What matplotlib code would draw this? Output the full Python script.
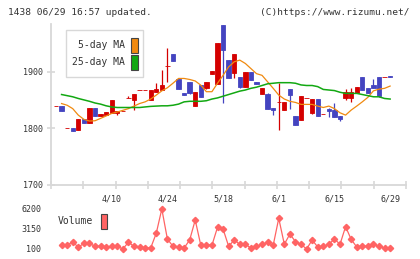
import numpy as np
import matplotlib
matplotlib.use("Agg")
import matplotlib.pyplot as plt
from matplotlib.patches import Rectangle

# ─── data ────────────────────────────────────────────────────────────────
opens = [1839, 1839, 1800, 1801, 1797, 1816, 1810, 1836, 1822, 1824,
         1828, 1828, 1831, 1854, 1850, 1868, 1868, 1850, 1865, 1868,
         1910, 1931, 1887, 1862, 1882, 1840, 1877, 1871, 1896, 1878,
         1983, 1921, 1898, 1891, 1874, 1900, 1882, 1861, 1861, 1837,
         1846, 1832, 1870, 1822, 1815, 1853, 1828, 1852, 1825, 1835,
         1832, 1822, 1854, 1854, 1863, 1891, 1871, 1877, 1891, 1891, 1892]
highs = [1839, 1839, 1800, 1801, 1816, 1816, 1837, 1836, 1825, 1829,
         1850, 1831, 1831, 1858, 1861, 1868, 1868, 1868, 1880, 1903,
         1942, 1931, 1887, 1862, 1882, 1864, 1877, 1882, 1901, 1951,
         1983, 1921, 1932, 1891, 1900, 1900, 1882, 1871, 1862, 1837,
         1880, 1847, 1870, 1822, 1857, 1853, 1852, 1852, 1825, 1837,
         1845, 1822, 1870, 1871, 1873, 1891, 1871, 1887, 1891, 1891, 1892]
lows = [1839, 1831, 1800, 1796, 1797, 1810, 1810, 1822, 1822, 1824,
        1828, 1824, 1831, 1854, 1833, 1868, 1868, 1850, 1865, 1868,
        1883, 1920, 1870, 1860, 1861, 1840, 1855, 1869, 1896, 1878,
        1845, 1890, 1890, 1871, 1874, 1886, 1879, 1861, 1835, 1824,
        1797, 1832, 1835, 1806, 1815, 1853, 1825, 1822, 1825, 1820,
        1820, 1813, 1850, 1847, 1863, 1868, 1863, 1871, 1856, 1891, 1891]
closes = [1839, 1831, 1800, 1796, 1816, 1810, 1837, 1822, 1825, 1829,
          1850, 1831, 1831, 1854, 1861, 1868, 1868, 1868, 1870, 1877,
          1910, 1920, 1870, 1860, 1863, 1864, 1855, 1882, 1901, 1951,
          1939, 1890, 1932, 1874, 1900, 1886, 1879, 1871, 1835, 1832,
          1846, 1847, 1860, 1806, 1857, 1853, 1852, 1822, 1825, 1831,
          1820, 1816, 1864, 1864, 1873, 1868, 1863, 1871, 1858, 1891, 1891]

ma5 = [np.nan, 1844, 1841, 1835, 1823.5, 1816, 1813, 1813.5, 1817.7, 1822,
       1826.5, 1829, 1832, 1835, 1839.5, 1844, 1847, 1852, 1859, 1866.5,
       1872, 1880, 1888.5, 1888.5, 1886.7, 1884, 1876.6, 1865, 1865, 1880,
       1894, 1909, 1918, 1921, 1915, 1906, 1897, 1894, 1882.5, 1871,
       1859, 1852, 1848, 1846, 1842.5, 1842.5, 1842.5, 1839.5, 1837, 1839.5,
       1835, 1827.6, 1823.5, 1832.4, 1839.5, 1847, 1855, 1866.5, 1869.5, 1871, 1875]
ma25 = [np.nan, 1860, 1858, 1856, 1853, 1850.5, 1848, 1845, 1843, 1840,
        1838, 1837, 1837, 1837, 1837, 1837, 1838, 1839, 1839.5, 1840,
        1840, 1841, 1843, 1847, 1848, 1848, 1848, 1849, 1852, 1854,
        1857, 1860, 1863, 1866, 1868, 1871, 1873, 1876, 1879, 1880,
        1881, 1881, 1881, 1880, 1877, 1876, 1876, 1874, 1869, 1868,
        1867, 1864, 1862, 1862, 1862, 1860, 1858, 1856, 1856, 1853, 1852]

volume = [np.nan, 664, 664, 1213, 359, 969, 969, 512, 512, 359,
          512, 512, 100, 1122, 512, 359, 252, 252, 2494, 6200,
          1625, 512, 359, 252, 1472, 4522, 664, 766, 664, 3409,
          3150, 512, 1472, 817, 817, 252, 512, 817, 1122, 664,
          4776, 817, 2388, 1213, 817, 100, 1472, 405, 512, 817,
          1625, 817, 3510, 1574, 405, 512, 512, 817, 512, 252, 252]

date_pos = [10, 20, 30, 40, 50, 60]
date_labels = ["4/10", "4/24", "5/18", "6/1", "6/15", "6/29"]
price_ticks = [1700, 1800, 1900]
vol_ticks = [100, 3150, 6200]

# ─── style ───────────────────────────────────────────────────────────────
W, H = 420, 259
UP, DOWN = "#d40000", "#4444c0"
C_MA5, C_MA25 = "#f08a10", "#12a812"
C_VOL = "#ff6464"
GRID = "#d8d8d8"
TXT = "#333333"
MONO = "DejaVu Sans Mono"
plt.rcParams["font.family"] = MONO


def fx(x):
    return x / W


def fy(y):
    return 1 - y / H


fig = plt.figure(figsize=(W / 100, H / 100), dpi=100)
fig.patch.set_facecolor("white")

x0, x1 = -0.9, 62.85
ax = fig.add_axes([fx(51), fy(184.8), fx(406) - fx(51), fy(24) - fy(184.8)])
ax.set_xlim(x0, x1)
ax.set_ylim(1700, 1985)
for s in ["top", "right"]:
    ax.spines[s].set_visible(False)
for s in ["left", "bottom"]:
    ax.spines[s].set_color(GRID)
    ax.spines[s].set_linewidth(1.3)

idx = np.arange(len(opens))
o = np.array(opens, float)
c = np.array(closes, float)
cols = [UP if cc >= oo else DOWN for oo, cc in zip(o, c)]

ax.vlines(idx, lows, highs, colors=cols, linewidth=0.9, zorder=2)
ax.bar(idx, c - o, bottom=o, width=0.78, color=cols, edgecolor=cols,
       linewidth=0.6, zorder=3)

ax.plot(idx, ma5, color=C_MA5, lw=0.9, zorder=4)
ax.plot(idx, ma25, color=C_MA25, lw=1.1, zorder=4)

ax.set_yticks(price_ticks)
ax.tick_params(axis="y", direction="inout", length=6, width=1.2,
               color=GRID, labelsize=6, labelcolor=TXT, pad=3)
ax.set_xticks(date_pos)
ax.set_xticklabels(date_labels)
ax.tick_params(axis="x", which="major", length=0, labelsize=6,
               labelcolor=TXT, pad=7)
ax.set_xticks(np.linspace(x0, x1, 12), minor=True)
ax.tick_params(axis="x", which="minor", direction="inout", length=6,
               width=1.2, color=GRID)

# legend box
fig.patches.append(Rectangle((fx(66), fy(77)), fx(143) - fx(66),
                             fy(30) - fy(77), transform=fig.transFigure,
                             facecolor="white", edgecolor=GRID, lw=1.0,
                             zorder=5))
for label, col, yc in [("5-day MA", C_MA5, 45), ("25-day MA", C_MA25, 62)]:
    fig.text(fx(125), fy(yc), label, ha="right", va="center",
             fontsize=7, color=TXT, zorder=6)
    fig.patches.append(Rectangle((fx(131), fy(yc + 7.5)), fx(6.5),
                                 fy(0) - fy(15), transform=fig.transFigure,
                                 facecolor=col, edgecolor="#444444",
                                 lw=0.8, zorder=6))

# ─── volume ──────────────────────────────────────────────────────────────
vax = fig.add_axes([fx(51), fy(253), fx(406) - fx(51), fy(205) - fy(253)])
vax.set_xlim(x0, x1)
vax.set_ylim(-510, 6810)
vax.plot(idx, volume, color=C_VOL, lw=0.9, marker="D", ms=3.2,
         mec=C_VOL, mfc=C_VOL)
for s in vax.spines.values():
    s.set_visible(False)
vax.set_xticks([])
vax.set_yticks(vol_ticks)
vax.set_yticklabels([str(v) for v in vol_ticks])
vax.tick_params(axis="y", length=0, labelsize=6, labelcolor=TXT, pad=7)

fig.text(fx(58), fy(221.5), "Volume", ha="left", va="center",
         fontsize=7, color=TXT)
fig.patches.append(Rectangle((fx(101), fy(228.5)), fx(6.5),
                             fy(0) - fy(15), transform=fig.transFigure,
                             facecolor=C_VOL, edgecolor="#444444", lw=0.8))

# header
fig.text(fx(8), fy(12.5), "1438 06/29 16:57 updated.", ha="left",
         va="center", fontsize=6.8, color=TXT)
fig.text(fx(409), fy(12.5), "(C)https://www.rizumu.net/", ha="right",
         va="center", fontsize=6.8, color=TXT)

fig.savefig("out.png", dpi=100, facecolor="white")
